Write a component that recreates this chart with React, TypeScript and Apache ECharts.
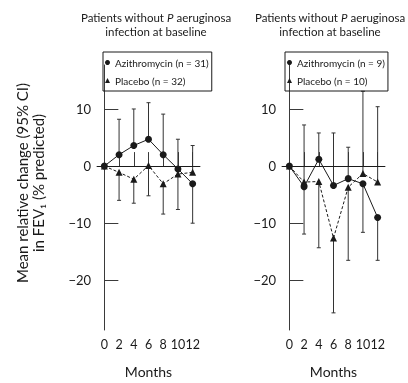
import React, { useEffect, useRef } from "react";
import * as echarts from "echarts";

const months = [0, 2, 4, 6, 8, 10, 12];
const yTicks = [-20, -10, 0, 10];

// Left panel (n = 31 / 32)
const leftAzi = [0, 2.0, 3.6, 4.7, 2.0, -0.5, -3.1];
const leftPla = [0, -1.1, -2.3, 0.1, -3.1, -1.4, -1.1];
const leftHigh = [null, 8.2, 10.0, 11.1, 9.1, 4.7, 3.6];
const leftLow = [null, -6.0, -6.5, -5.2, -8.4, -7.6, -10.0];

// Right panel (n = 9 / 10)
const rightAzi = [0, -3.6, 1.2, -3.4, -2.2, -3.1, -9.0];
const rightPla = [0, -2.8, -2.7, -12.6, -3.7, -1.3, -2.8];
const rightHigh = [null, 7.2, 5.8, 5.8, 3.3, 13.1, 10.4];
const rightLow = [null, -11.9, -14.3, -25.7, -16.5, -11.6, -16.5];

const legendLeft = ["Azithromycin (n = 31)", "Placebo (n = 32)"];
const legendRight = ["Azithromycin (n = 9)", "Placebo (n = 10)"];

const FONT = "Lato, 'DejaVu Sans', sans-serif";
const INK = "#1a1a1a";
const AXIS = "#3a3a3a";

const fmt = (v: number) => (v < 0 ? "\u2212" + Math.abs(v) : String(v));

function errorSeries(idx: number, azi: number[], pla: number[], hi: (number | null)[], lo: (number | null)[]) {
  const data = months
    .map((m, i) => (hi[i] == null ? null : [m, lo[i], hi[i], azi[i], pla[i]]))
    .filter((d) => d != null);
  return {
    type: "custom",
    xAxisIndex: idx,
    yAxisIndex: idx,
    z: 1,
    silent: true,
    data,
    renderItem: (_params: any, api: any) => {
      const x = api.value(0);
      const low = api.value(1);
      const high = api.value(2);
      const a = api.value(3);
      const p = api.value(4);
      const top = Math.max(a, p);
      const bot = Math.min(a, p);
      const pHigh = api.coord([x, high]);
      const pTop = api.coord([x, top]);
      const pBot = api.coord([x, bot]);
      const pLow = api.coord([x, low]);
      const cap = 2;
      const style = { stroke: "#333", lineWidth: 1, fill: "none" };
      return {
        type: "group",
        children: [
          { type: "line", shape: { x1: pHigh[0], y1: pHigh[1], x2: pTop[0], y2: pTop[1] }, style },
          { type: "line", shape: { x1: pHigh[0] - cap, y1: pHigh[1], x2: pHigh[0] + cap, y2: pHigh[1] }, style },
          { type: "line", shape: { x1: pBot[0], y1: pBot[1], x2: pLow[0], y2: pLow[1] }, style },
          { type: "line", shape: { x1: pLow[0] - cap, y1: pLow[1], x2: pLow[0] + cap, y2: pLow[1] }, style },
        ],
      };
    },
  };
}

function lineSeries(idx: number, name: string, vals: number[], symbol: string, dashed: boolean, withZero: boolean) {
  const s: any = {
    type: "line",
    name,
    xAxisIndex: idx,
    yAxisIndex: idx,
    z: 3,
    data: months.map((m, i) => [m, vals[i]]),
    symbol,
    symbolSize: 7,
    showSymbol: true,
    itemStyle: { color: INK },
    lineStyle: { color: INK, width: 1, type: dashed ? [3, 2] : "solid" },
  };
  if (withZero) {
    s.markLine = {
      silent: true,
      symbol: "none",
      label: { show: false },
      lineStyle: { color: INK, width: 1, type: "solid" },
      data: [{ yAxis: 0 }],
    };
  }
  return s;
}

function axesFor(i: number) {
  const x = {
    type: "value",
    gridIndex: i,
    min: -1,
    max: 13,
    name: "Months",
    nameLocation: "middle",
    nameGap: 34,
    nameTextStyle: { fontSize: 14, color: INK, fontFamily: FONT },
    axisLine: { lineStyle: { color: AXIS, width: 1 } },
    axisTick: { inside: true, length: 14, customValues: months, lineStyle: { color: AXIS } },
    axisLabel: {
      customValues: months,
      margin: 8,
      fontSize: 12.5,
      color: INK,
      fontFamily: FONT,
      hideOverlap: false,
      showMinLabel: true,
      showMaxLabel: true,
    },
    splitLine: { show: false },
  };
  const y = {
    type: "value",
    gridIndex: i,
    min: -28.7,
    max: 17.7,
    axisLine: { show: true, lineStyle: { color: AXIS, width: 1 } },
    axisTick: { show: true, inside: true, length: 14, customValues: yTicks, lineStyle: { color: AXIS } },
    axisLabel: { customValues: yTicks, margin: 6, fontSize: 13, color: INK, fontFamily: FONT, formatter: fmt },
    splitLine: { show: false },
  };
  return { x, y };
}

function legendFor(names: string[], left: number) {
  return {
    orient: "vertical",
    left,
    top: 52,
    data: [
      { name: names[0], icon: "circle" },
      { name: names[1], icon: "triangle" },
    ],
    itemWidth: 5,
    itemHeight: 5,
    itemGap: 3,
    padding: [3, 3, 3, 2],
    borderColor: INK,
    borderWidth: 1,
    selectedMode: false,
    itemStyle: { color: INK },
    textStyle: { fontSize: 10, color: INK, fontFamily: FONT, lineHeight: 15 },
  };
}

function titleText(x: number) {
  return {
    type: "text",
    x,
    y: 24,
    style: {
      text: "Patients without {i|P} aeruginosa\ninfection at baseline",
      rich: { i: { fontStyle: "italic", fontSize: 11.5, fontFamily: FONT, fill: INK } },
      fontSize: 11.5,
      fontFamily: FONT,
      fill: INK,
      align: "center",
      verticalAlign: "middle",
      lineHeight: 14,
    },
  };
}

export default function App() {
  const ref = useRef<HTMLDivElement>(null);
  useEffect(() => {
    if (!ref.current) return;
    const chart = echarts.init(ref.current, undefined, { renderer: "svg" });
    const a0 = axesFor(0);
    const a1 = axesFor(1);
    chart.setOption({
      animation: false,
      grid: [
        { left: 97, top: 65, width: 103, height: 272 },
        { left: 282, top: 65, width: 103, height: 272 },
      ],
      xAxis: [a0.x, a1.x],
      yAxis: [a0.y, a1.y],
      legend: [legendFor(legendLeft, 103), legendFor(legendRight, 285)],
      graphic: [
        titleText(156),
        titleText(330),
        {
          type: "text",
          x: 30,
          y: 183,
          rotation: Math.PI / 2,
          style: {
            text: "Mean relative change (95% CI)\nin FEV\u2081 (% predicted)",
            fontSize: 15,
            fontFamily: FONT,
            fill: INK,
            align: "center",
            verticalAlign: "middle",
            lineHeight: 16,
          },
        },
      ],
      series: [
        errorSeries(0, leftAzi, leftPla, leftHigh, leftLow),
        lineSeries(0, legendLeft[0], leftAzi, "circle", false, true),
        lineSeries(0, legendLeft[1], leftPla, "triangle", true, false),
        errorSeries(1, rightAzi, rightPla, rightHigh, rightLow),
        lineSeries(1, legendRight[0], rightAzi, "circle", false, true),
        lineSeries(1, legendRight[1], rightPla, "triangle", true, false),
      ],
    });
    return () => chart.dispose();
  }, []);
  return <div ref={ref} style={{ position: "fixed", left: 0, top: 0, width: 408, height: 383 }} />;
}
